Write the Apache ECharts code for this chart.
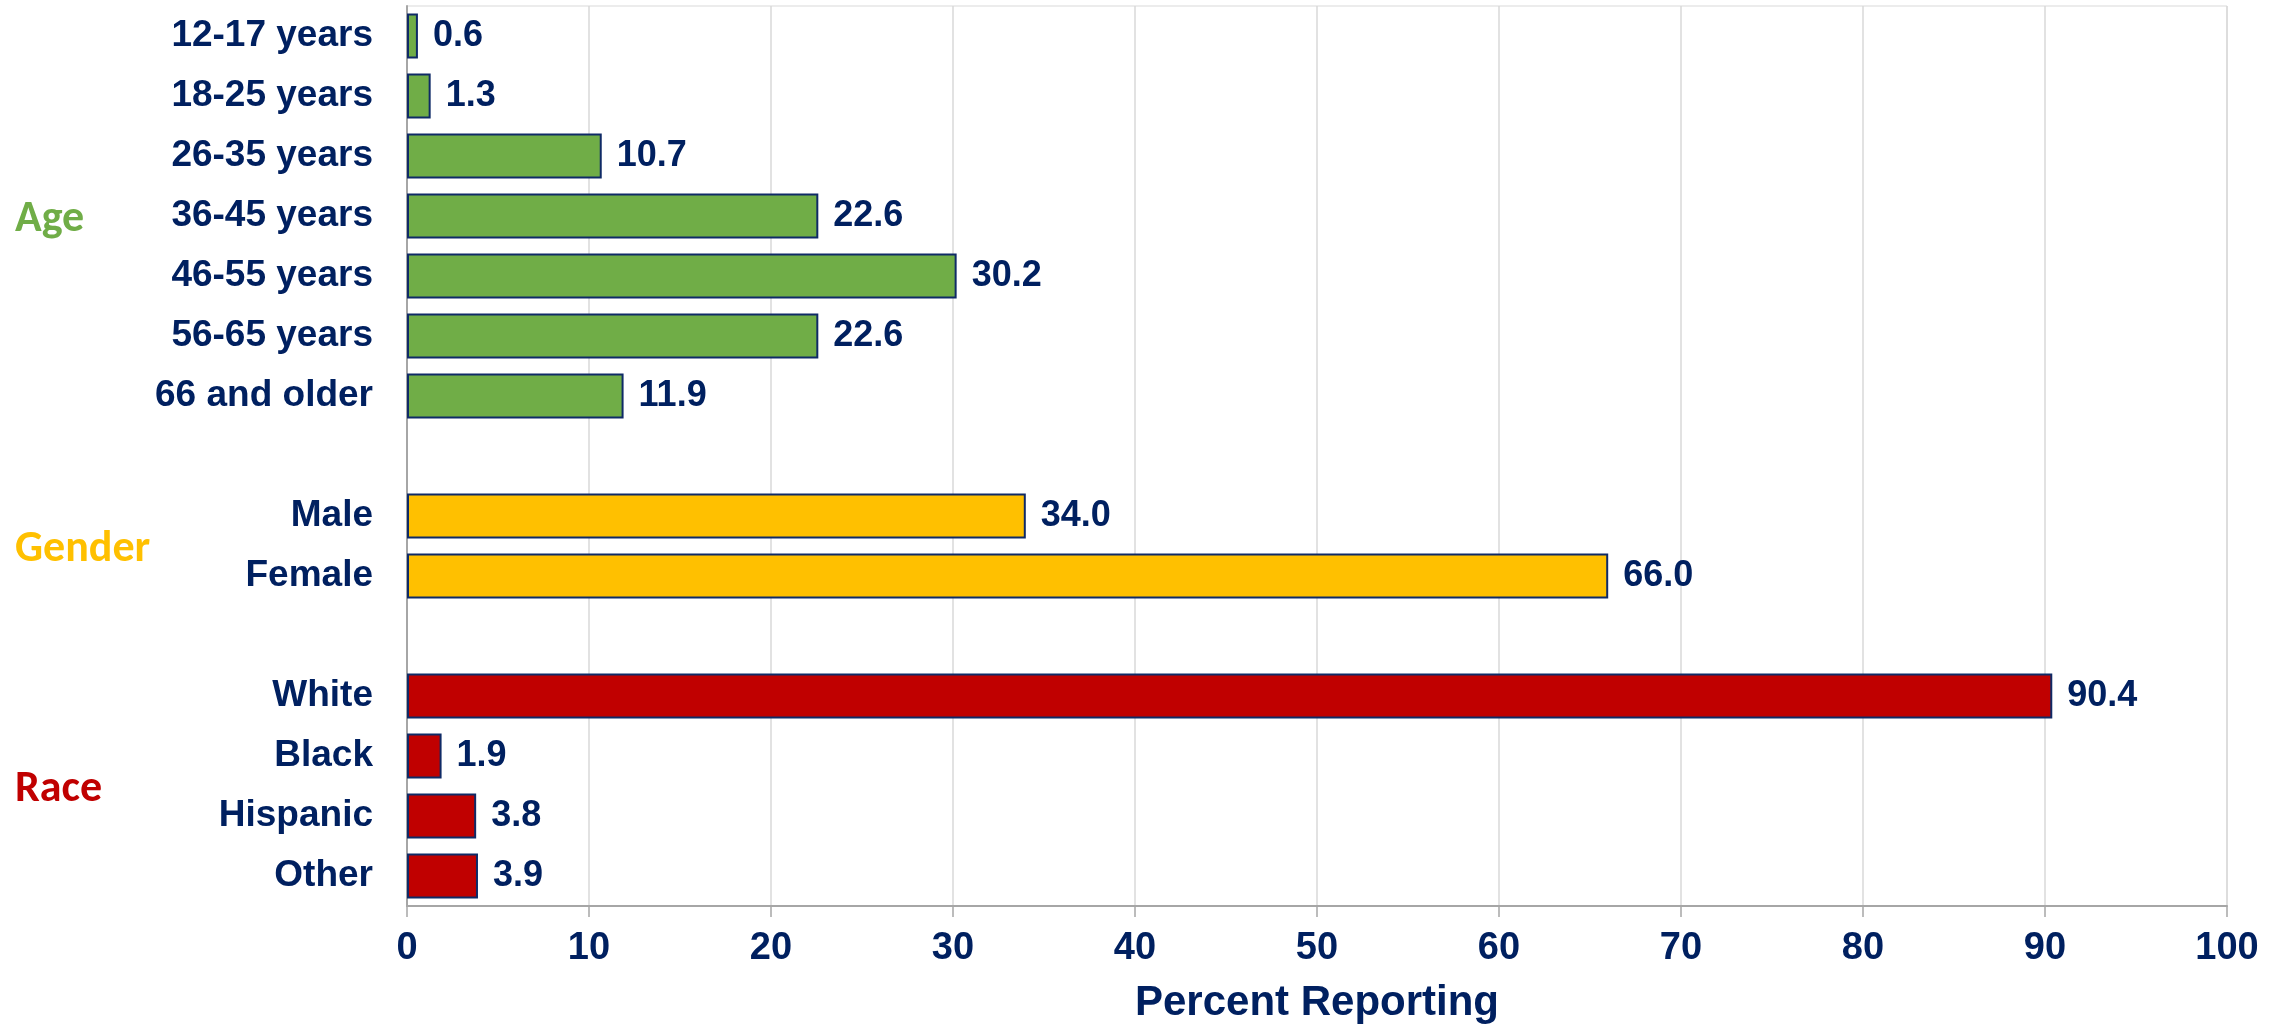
<!DOCTYPE html>
<html>
<head>
<meta charset="utf-8">
<script src="https://cdn.jsdelivr.net/npm/echarts@6/dist/echarts.min.js"></script>
<style>
html,body{margin:0;padding:0;background:#fff;}
#chart{width:2288px;height:1029px;}
</style>
</head>
<body>
<div id="chart"></div>
<script>
// ---- data ----
const ageLabels = ['12-17 years','18-25 years','26-35 years','36-45 years','46-55 years','56-65 years','66 and older'];
const ageValues = [0.6, 1.3, 10.7, 22.6, 30.2, 22.6, 11.9];
const genderLabels = ['Male','Female'];
const genderValues = [34.0, 66.0];
const raceLabels = ['White','Black','Hispanic','Other'];
const raceValues = [90.4, 1.9, 3.8, 3.9];
const groupNames = ['Age','Gender','Race'];
const groupColors = ['#70AD47','#FFC000','#C00000'];
const xTicks = [0,10,20,30,40,50,60,70,80,90,100];
const axisTitle = 'Percent Reporting';

const navy = '#002060';
const groups = [
  {labels: ageLabels, values: ageValues},
  {labels: genderLabels, values: genderValues},
  {labels: raceLabels, values: raceValues}
];

// build category list with blank spacer slots between groups
const categories = [];
const seriesData = [];
const groupRanges = [];
groups.forEach((g, gi) => {
  if (gi > 0) { categories.push(' '.repeat(gi)); seriesData.push('-'); }
  const start = categories.length;
  g.labels.forEach((l, i) => {
    categories.push(l);
    seriesData.push({value: g.values[i], itemStyle: {color: groupColors[gi]}});
  });
  groupRanges.push([start, categories.length - 1]);
});

const chart = echarts.init(document.getElementById('chart'), null, {renderer: 'canvas'});
const option = {
  animation: false,
  backgroundColor: '#fff',
  grid: {left: 407, right: 61, top: 6, bottom: 120, show: true, borderColor: '#d9d9d9', borderWidth: 1},
  xAxis: {
    type: 'value', min: xTicks[0], max: xTicks[xTicks.length-1], interval: 10,
    name: axisTitle, nameLocation: 'middle', nameGap: 76,
    nameTextStyle: {color: navy, fontSize: 42, fontWeight: 'bold', fontFamily: 'Liberation Sans, Arial, sans-serif'},
    axisLine: {show: true, lineStyle: {color: '#a6a6a6', width: 2}},
    axisTick: {show: true, length: 11, lineStyle: {color: '#a6a6a6', width: 1.5}},
    splitLine: {show: true, lineStyle: {color: '#d9d9d9', width: 1.5}},
    axisLabel: {color: navy, fontSize: 38, fontWeight: 'bold', margin: 24, fontFamily: 'Liberation Sans, Arial, sans-serif'}
  },
  yAxis: {
    type: 'category', data: categories, inverse: true,
    axisLine: {show: true, lineStyle: {color: '#a6a6a6', width: 2}},
    axisTick: {show: false},
    splitLine: {show: false},
    axisLabel: {color: navy, fontSize: 37, fontWeight: 'bold', margin: 34, fontFamily: 'Liberation Sans, Arial, sans-serif'}
  },
  series: [{
    type: 'bar', data: seriesData, barCategoryGap: '25%',
    itemStyle: {borderColor: '#0f2a66', borderWidth: 2},
    label: {show: true, position: 'right', distance: 15, color: navy, fontSize: 36, fontWeight: 'bold',
      fontFamily: 'Liberation Sans, Arial, sans-serif',
      formatter: p => Number(p.value).toFixed(1)}
  }]
};
chart.setOption(option);

// group labels placed via axis scale (midpoint of first and last category pixel positions)
const graphics = groupRanges.map((r, gi) => {
  const y0 = chart.convertToPixel({yAxisIndex: 0}, r[0]);
  const y1 = chart.convertToPixel({yAxisIndex: 0}, r[1]);
  const y = (y0 + y1) / 2;
  return {
    type: 'text', x: 15, y: y + 4,
    style: {text: groupNames[gi], fill: groupColors[gi], font: 'bold 44px Carlito, Lato, sans-serif',
      align: 'left', verticalAlign: 'middle'}
  };
});
chart.setOption({graphic: graphics});
</script>
</body>
</html>
